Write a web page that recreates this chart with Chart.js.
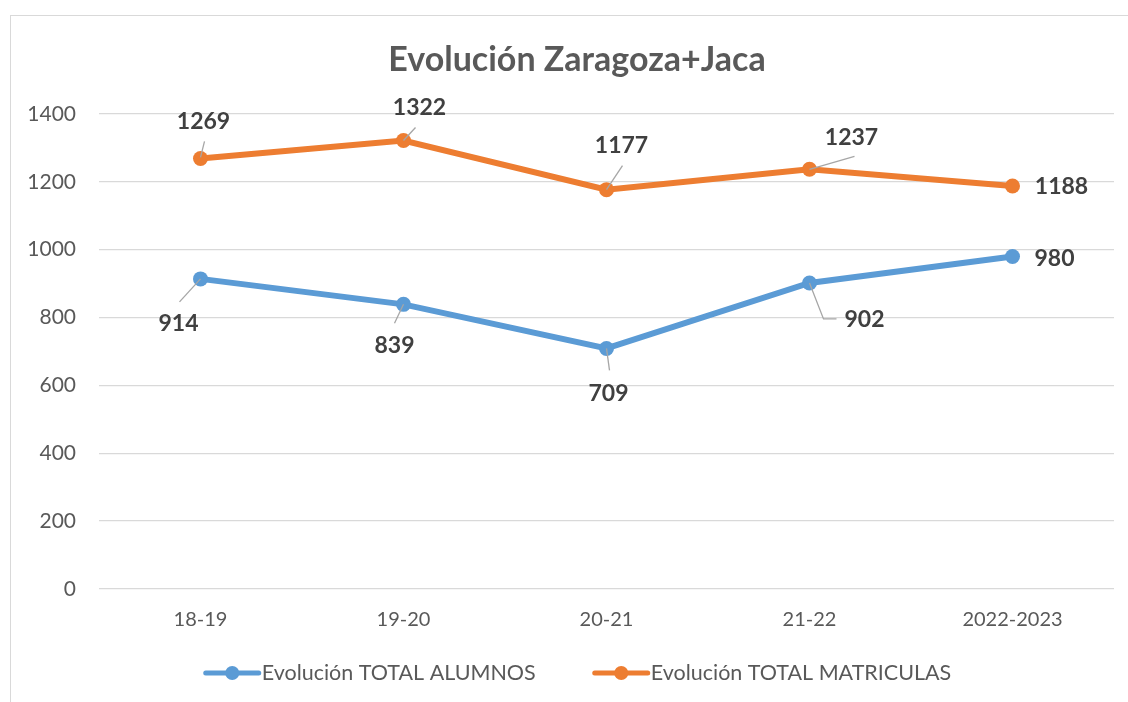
<!DOCTYPE html>
<html>
<head>
<meta charset="utf-8">
<script src="https://cdn.jsdelivr.net/npm/chart.js@4"></script>
<style>
  html, body { margin: 0; padding: 0; background: #fff; }
  #frame {
    position: absolute; left: 10px; top: 15px; right: 0; bottom: 0;
    border-left: 1px solid #d9d9d9; border-top: 1px solid #d9d9d9;
  }
  #wrap { position: absolute; left: 0; top: 0; width: 1128px; height: 702px; }
</style>
</head>
<body>
<div id="frame"></div>
<div id="wrap"><canvas id="chart" width="1128" height="702"></canvas></div>
<script>
// Chart data
const categories = ['18-19', '19-20', '20-21', '21-22', '2022-2023'];
const alumnos = [914, 839, 709, 902, 980];
const matriculas = [1269, 1322, 1177, 1237, 1188];
const yTicks = [0, 200, 400, 600, 800, 1000, 1200, 1400];
const chartTitle = 'Evolución Zaragoza+Jaca';

const BLUE = '#5b9bd5';
const ORANGE = '#ed7d31';
const FONT = 'Lato, "Open Sans", sans-serif';
// the Excel frame is a bit wider than the page, so title/legend centre here
const CENTER_X = 577;

// Where each data label sits relative to its point, plus its leader line (px)
const labelPlacement = [
    [ // alumnos
        { dx: -22, dy: 45, leader: [[0, 0], [-21, 23]] },
        { dx: -9, dy: 41, leader: [[0, 0], [-9, 19]] },
        { dx: 2, dy: 45, leader: [[0, 0], [3, 22]] },
        { dx: 55, dy: 37, leader: [[0, 0], [14, 36], [27, 36]] },
        { dx: 42, dy: 2 },
    ],
    [ // matriculas
        { dx: 3, dy: -37, leader: [[0, -1], [4, -17]] },
        { dx: 16, dy: -33, leader: [[0, 0], [12, -13]] },
        { dx: 15, dy: -44, leader: [[0, 0], [16, -24]] },
        { dx: 42, dy: -32, leader: [[0, 0], [45, -13]] },
        { dx: 49, dy: 1 },
    ],
];

const dataLabels = {
    id: 'dataLabels',
    afterDatasetsDraw(chart) {
        const ctx = chart.ctx;
        ctx.save();
        chart.data.datasets.forEach((ds, di) => {
            const meta = chart.getDatasetMeta(di);
            meta.data.forEach((pt, i) => {
                const p = labelPlacement[di][i];
                if (p.leader) {
                    ctx.strokeStyle = '#a6a6a6';
                    ctx.lineWidth = 1.3;
                    ctx.beginPath();
                    p.leader.forEach(([lx, ly], k) => {
                        if (k === 0) ctx.moveTo(pt.x + lx, pt.y + ly);
                        else ctx.lineTo(pt.x + lx, pt.y + ly);
                    });
                    ctx.stroke();
                }
                ctx.fillStyle = '#404040';
                ctx.font = 'bold 23px ' + FONT;
                ctx.textAlign = 'center';
                ctx.textBaseline = 'middle';
                ctx.fillText(String(ds.data[i]), pt.x + p.dx, pt.y + p.dy);
            });
        });
        ctx.restore();
    }
};

// title + Excel-style legend (line with a dot, text right after it)
const frameText = {
    id: 'frameText',
    afterDraw(chart) {
        const ctx = chart.ctx;
        ctx.save();
        ctx.fillStyle = '#595959';
        ctx.font = 'bold 34px ' + FONT;
        ctx.textAlign = 'center';
        ctx.textBaseline = 'middle';
        ctx.fillText(chartTitle, CENTER_X, 60);

        const symW = 59, gap = 56, y = 673;
        ctx.font = '21.5px ' + FONT;
        const items = chart.data.datasets.map(ds => ({
            text: ds.label, color: ds.borderColor, w: ctx.measureText(ds.label).width
        }));
        const total = items.reduce((s, it) => s + symW + it.w, 0) + gap * (items.length - 1);
        let x = CENTER_X - total / 2;
        items.forEach(it => {
            ctx.strokeStyle = it.color;
            ctx.lineWidth = 5;
            ctx.lineCap = 'round';
            ctx.beginPath();
            ctx.moveTo(x + 3, y);
            ctx.lineTo(x + symW - 3, y);
            ctx.stroke();
            ctx.fillStyle = it.color;
            ctx.beginPath();
            ctx.arc(x + symW / 2, y, 7, 0, Math.PI * 2);
            ctx.fill();
            ctx.fillStyle = '#595959';
            ctx.textAlign = 'left';
            ctx.fillText(it.text, x + symW, y);
            x += symW + it.w + gap;
        });
        ctx.restore();
    }
};

new Chart(document.getElementById('chart'), {
    type: 'line',
    data: {
        labels: categories,
        datasets: [
            {
                label: 'Evolución TOTAL ALUMNOS',
                data: alumnos,
                borderColor: BLUE,
                backgroundColor: BLUE,
                borderWidth: 6,
                pointRadius: 7.5,
                pointHoverRadius: 7.5,
                pointBorderWidth: 0,
                tension: 0,
            },
            {
                label: 'Evolución TOTAL MATRICULAS',
                data: matriculas,
                borderColor: ORANGE,
                backgroundColor: ORANGE,
                borderWidth: 6,
                pointRadius: 7.5,
                pointHoverRadius: 7.5,
                pointBorderWidth: 0,
                tension: 0,
            }
        ]
    },
    options: {
        responsive: false,
        animation: false,
        layout: { padding: { left: 0, right: 14, top: 114, bottom: 52 } },
        plugins: {
            title: { display: false },
            legend: { display: false },
            tooltip: { enabled: false }
        },
        scales: {
            x: {
                offset: true,
                afterFit(scale) { scale.height = 61; },
                grid: { display: false, drawTicks: false },
                border: { display: false },
                ticks: {
                    color: '#595959',
                    font: { family: FONT, size: 20 },
                    padding: 19
                }
            },
            y: {
                min: 0,
                max: 1400,
                afterFit(scale) { scale.width = 99; },
                afterBuildTicks(scale) { scale.ticks = yTicks.map(v => ({ value: v })); },
                grid: { color: '#d9d9d9', lineWidth: 1.3, drawTicks: false },
                border: { display: false },
                ticks: {
                    color: '#595959',
                    font: { family: FONT, size: 21 },
                    padding: 23,
                    callback: v => String(v)
                }
            }
        }
    },
    plugins: [dataLabels, frameText]
});
</script>
</body>
</html>
